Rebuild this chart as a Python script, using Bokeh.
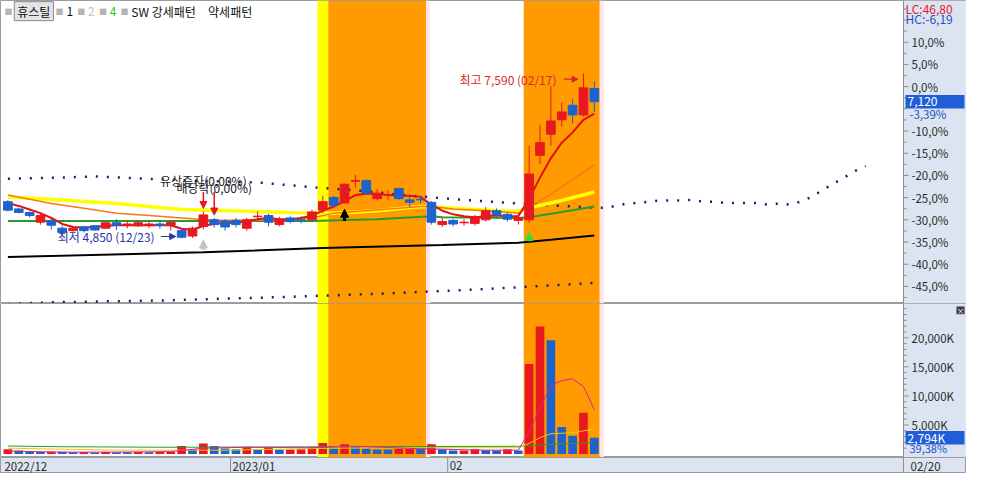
from bokeh.plotting import figure
from bokeh.models import Range1d, Arrow, NormalHead, ColumnDataSource, Label
from bokeh.layouts import column
from bokeh.embed import file_html
from bokeh.resources import INLINE
from bokeh.core.properties import value

FONT = "Noto Sans CJK KR"

# ---------------- data ----------------
stock_name = "휴스틸"
legend_periods = ["1", "2", "4"]
pattern_names = ["SW 강세패턴", "약세패턴"]
month_labels = ["2022/12", "2023/01", "02"]
month_first_idx = [0, 21, 41]
cursor_date = "02/20"
high_date = "02/17"
low_date = "12/23"

opens = [5460, 5340, 5280, 5120, 5150, 5020, 4980, 5040, 5060, 5020,
         5110, 5080, 5060, 5080, 5090, 5070, 4980, 4890, 5050, 5160,
         5140, 5150, 5020, 5210, 5230, 5080, 5190, 5160, 5160, 5320,
         5530, 5440, 5800, 5810, 5510, 5570, 5680, 5490, 5500, 5450,
         5080, 5150, 5110, 5100, 5160, 5310, 5250, 5150, 5160, 6230,
         6580, 6820, 7060, 6900, 7340]
highs = [5490, 5360, 5300, 5270, 5170, 5060, 5040, 5060, 5070, 5120,
         5170, 5150, 5140, 5140, 5140, 5150, 5020, 5050, 5300, 5190,
         5170, 5190, 5190, 5300, 5260, 5210, 5220, 5220, 5330, 5560,
         5560, 5760, 5910, 5830, 5670, 5650, 5690, 5560, 5560, 5470,
         5190, 5170, 5170, 5240, 5370, 5350, 5280, 5270, 6390, 6740,
         7380, 7110, 7170, 7590, 7460]
lows = [5300, 5270, 5200, 5080, 5000, 4910, 4960, 4950, 4980, 5010,
        4990, 5020, 5040, 5020, 5010, 4980, 4850, 4860, 5000, 5030,
        4980, 5030, 4980, 5140, 5050, 5050, 5100, 5100, 5120, 5270,
        5350, 5430, 5690, 5590, 5480, 5490, 5490, 5370, 5430, 5080,
        5040, 5050, 5060, 5060, 5130, 5210, 5130, 5080, 5110, 6080,
        6390, 6710, 6760, 6870, 6950]
closes = [5320, 5280, 5230, 5230, 5070, 4950, 5020, 4980, 4990, 5110,
          5070, 5090, 5110, 5090, 5070, 5120, 4870, 5020, 5240, 5080,
          5040, 5080, 5160, 5220, 5120, 5160, 5130, 5150, 5290, 5460,
          5400, 5750, 5810, 5600, 5600, 5580, 5510, 5450, 5490, 5120,
          5130, 5090, 5120, 5210, 5310, 5240, 5170, 5190, 5920, 6440,
          6800, 6950, 6900, 7350, 7120]
volumes_k = [830, 610, 380, 360, 400, 380, 300, 330, 280, 350,
             320, 300, 340, 300, 330, 380, 1380, 830, 1830, 1380,
             950, 830, 1210, 830, 1160, 780, 790, 800, 1160, 1880,
             950, 1660, 1210, 950, 780, 760, 900, 950, 900, 1660,
             830, 600, 620, 830, 660, 600, 830, 610, 15490, 21960,
             19590, 4650, 3150, 7095, 2794]

# price moving averages
ma5 = [5440, 5390, 5330, 5270, 5190, 5090, 5040, 5030, 5040, 5060,
       5070, 5070, 5070, 5070, 5070, 5070, 5010, 4990, 5060, 5090,
       5110, 5110, 5140, 5170, 5190, 5170, 5170, 5190, 5230, 5310,
       5380, 5470, 5570, 5590, 5590, 5570, 5560, 5560, 5540, 5410,
       5310, 5250, 5220, 5200, 5220, 5230, 5220, 5220, 5510, 5860,
       6180, 6440, 6610, 6820, 6920]
ma20_idx = [0, 4, 7, 10, 13, 16, 19, 24, 28, 30, 33, 36, 38, 39, 41, 45, 47, 48, 50, 52, 54]
ma20 = [5570, 5430, 5350, 5270, 5230, 5190, 5150, 5150, 5190, 5270, 5310, 5350, 5380, 5380,
        5340, 5300, 5270, 5380, 5580, 5830, 6070]
ma60_idx = [0, 5, 10, 16, 22, 28, 30, 34, 38, 41, 45, 47, 48, 51, 54]
ma60 = [5540, 5490, 5430, 5330, 5300, 5270, 5270, 5310, 5380, 5350, 5310, 5300, 5360, 5480, 5620]
ma120_idx = [0, 10, 20, 28, 34, 39, 40, 47, 48, 51, 54]
ma120 = [5140, 5140, 5140, 5140, 5170, 5220, 5200, 5190, 5200, 5290, 5380]
ma240_idx = [0, 18, 29, 40, 47, 50, 54]
ma240 = [4540, 4620, 4690, 4740, 4780, 4830, 4900]
span_a_idx = [0, 5, 8, 13, 17, 23, 28, 32, 37, 42, 47, 51] + list(range(54, 80))
span_a = [5840, 5860, 5880, 5840, 5810, 5780, 5700, 5650, 5560, 5490, 5430, 5390,
          5360, 5360, 5390, 5430, 5440, 5460, 5480, 5480, 5480, 5490, 5460, 5460, 5440,
          5440, 5440, 5440, 5410, 5430, 5410, 5460, 5540, 5650, 5760, 5860, 5970, 6050]
span_b_idx = [0, 4, 14, 24, 34, 44, 54]
span_b = [3760, 3790, 3820, 3870, 3930, 4010, 4110]

# volume moving averages
vma5_idx = [0, 5, 10, 15, 18, 22, 28, 32, 38, 44, 47, 48, 49, 50, 51, 52, 53, 54]
vma5 = [500, 330, 330, 420, 1000, 1160, 1080, 1330, 910, 660, 660, 3820, 7970, 11790, 12620, 12950, 11620, 7640]
vma20_idx = [0, 10, 20, 30, 40, 47, 48, 49, 50, 52, 54]
vma20 = [1000, 660, 660, 1000, 1080, 1080, 1830, 2820, 3490, 3650, 4320]
vma60_idx = [0, 5, 15, 30, 47, 48, 50, 52, 54]
vma60 = [1380, 1250, 1160, 1250, 1330, 1410, 1660, 1830, 1990]

base_price = 7370
lc_text = "LC:46,80"
hc_text = "HC:-6,19"
last_change_text = "-3,39%"
vol_ratio_text = "39,38%"
event_names = ["유상증자(0,00%)", "배당락(0,00%)"]
event_idx = [18, 19]
up_signal_idx = [18, 31, 48]
up_signal_colors = ["#c4c4c4", "#000000", "#33dd33"]
yellow_days = [29]
strong_bands = [(30, 38), (48, 54)]
pct_ticks = [10, 5, 0, -10, -15, -20, -25, -30, -35, -40, -45]
vol_ticks = [5000, 10000, 15000, 20000]

# ---------------- layout / style ----------------
W, W_PLOT = 966, 903
H_PRICE, H_VOL, H_DATE = 303, 154, 16
X_START, X_END = -0.68, 82.47
X_FULL = X_START + (X_END - X_START) * W / W_PLOT
PPU = W_PLOT / (X_END - X_START)          # screen px per day
PRICE_LO, PRICE_HI = 3770, 8800
VOL_LO, VOL_HI = -600, 25900
REF_DAY_PX = 11.04
RPP = (PRICE_HI - PRICE_LO) / 313.0       # price per reference px
VPP = (VOL_HI - VOL_LO) / 159.0
AXIS_BG = "#dbe4f0"
AXIS_LINE = "#8c8c8c"
LABEL_C = "#2b2b2b"
RED = "#e8191e"
BLUE = "#1e62cc"
BOX_BLUE = "#1f5ed6"


def ix(px):
    return (px - 7.5) / REF_DAY_PX


xr = Range1d(X_START, X_FULL)


def make_fig(h, yr, bg="white"):
    f = figure(width=W, height=h, x_range=xr, y_range=yr, output_backend="svg",
               toolbar_location=None, tools="", x_axis_location=None, y_axis_location=None,
               min_border=0, min_border_left=0, min_border_right=0, min_border_top=0,
               min_border_bottom=0, background_fill_color=bg, border_fill_color=AXIS_BG,
               outline_line_color="#9c9c9c")
    f.grid.visible = False
    return f


def txt(f, x, y, text, color=LABEL_C, size="11.5px", align="left", x_offset=0):
    f.text(x=x, y=y, text=text, x_offset=x_offset, text_align=align, text_baseline="middle",
           text_color=color, text_font=value(FONT), text_font_size=value(size))


def axis_area(f, lo, hi, tick_pos, tick_labels, minor_pos):
    f.quad(left=[X_END], right=[X_FULL], bottom=[lo], top=[hi], fill_color=AXIS_BG, line_color=None)
    f.segment(x0=[X_END], y0=[lo], x1=[X_END], y1=[hi], line_color=AXIS_LINE, line_width=1)
    n_t = len(tick_pos)
    f.segment(x0=[X_END] * n_t, y0=tick_pos, x1=[X_END + 5 / PPU] * n_t, y1=tick_pos,
              line_color=AXIS_LINE, line_width=1)
    n_m = len(minor_pos)
    f.segment(x0=[X_END] * n_m, y0=minor_pos, x1=[X_END + 3 / PPU] * n_m, y1=minor_pos,
              line_color=AXIS_LINE, line_width=1)
    txt(f, [X_END] * n_t, tick_pos, tick_labels, x_offset=8)


def value_box(f, y, half_h, text):
    f.quad(left=[X_END + 2 / PPU], right=[X_FULL - 2 / PPU], bottom=[y - half_h], top=[y + half_h],
           fill_color=BOX_BLUE, line_color=None)
    txt(f, [X_END], [y], [text], color="white", size="12px", x_offset=4)


def draw_bands(f, lo, hi):
    f.quad(left=[d - 0.5 for d in yellow_days], right=[d + 0.5 for d in yellow_days],
           bottom=lo, top=hi, fill_color="#ffff00", line_color=None)
    f.quad(left=[a - 0.5 for a, b in strong_bands], right=[b + 0.5 for a, b in strong_bands],
           bottom=lo, top=hi, fill_color="#ff9b00", line_color=None)
    f.quad(left=[b + 0.5 for a, b in strong_bands], right=[b + 0.9 for a, b in strong_bands],
           bottom=lo, top=hi, fill_color="#ffe6ea", line_color=None)


n = len(closes)
idx = list(range(n))
candle_colors = [RED if c >= o else BLUE for o, c in zip(opens, closes)]
vol_colors = [RED] + [RED if volumes_k[i] >= volumes_k[i - 1] else BLUE for i in range(1, n)]

# ---------------- price panel ----------------
pp = make_fig(H_PRICE, Range1d(PRICE_LO, PRICE_HI))
draw_bands(pp, PRICE_LO, PRICE_HI)

pp.line(span_a_idx, span_a, line_color="#1c1c78", line_width=2.5, line_dash="2 9")
pp.line(span_b_idx, span_b, line_color="#1c1c78", line_width=2.5, line_dash="2 9")
pp.line(ma240_idx, ma240, line_color="#000000", line_width=2)
pp.line(ma120_idx, ma120, line_color="#279b2c", line_width=2)
pp.line(ma60_idx, ma60, line_color="#ffff00", line_width=3.5)
pp.line(ma20_idx, ma20, line_color="#ff7418", line_width=1.5)
pp.line(idx, ma5, line_color="#e41010", line_width=2)

src = ColumnDataSource(dict(
    x=idx, h=highs, l=lows,
    top=[max(o, c) for o, c in zip(opens, closes)],
    bottom=[min(o, c) for o, c in zip(opens, closes)],
    color=candle_colors))
pp.segment(x0="x", y0="l", x1="x", y1="h", line_color="color", line_width=1, source=src)
pp.vbar(x="x", width=0.8, top="top", bottom="bottom", fill_color="color",
        line_color="color", line_width=1, source=src)

# high / low annotations
i_hi = max(idx, key=lambda i: highs[i])
i_lo = min(idx, key=lambda i: lows[i])
y_hi_txt = highs[i_hi] - 6 * RPP
txt(pp, [i_hi], [y_hi_txt], [f"최고 {highs[i_hi]:,} ({high_date})"], color="#d42a2a",
    size="12px", align="right", x_offset=-27)
pp.add_layout(Arrow(x_start=i_hi - 20 / REF_DAY_PX, x_end=i_hi - 5.5 / REF_DAY_PX,
                    y_start=y_hi_txt, y_end=y_hi_txt, line_color="#d42a2a", line_width=1.2,
                    end=NormalHead(size=6, fill_color="#d42a2a", line_color="#d42a2a")))
y_lo_txt = lows[i_lo] + 2 * RPP
txt(pp, [i_lo], [y_lo_txt], [f"최저 {lows[i_lo]:,} ({low_date})"], color="#2636a8",
    size="12px", align="right", x_offset=-27)
pp.add_layout(Arrow(x_start=i_lo - 21 / REF_DAY_PX, x_end=i_lo - 6 / REF_DAY_PX,
                    y_start=y_lo_txt, y_end=y_lo_txt, line_color="#2636a8", line_width=1.2,
                    end=NormalHead(size=6, fill_color="#2636a8", line_color="#2636a8")))

# events (down arrows with labels)
ev_tail = max(highs[i] for i in event_idx) + 20 * RPP
for k, (name, i) in enumerate(zip(event_names, event_idx)):
    pp.add_layout(Arrow(x_start=i, x_end=i, y_start=ev_tail, y_end=highs[i] + 3 * RPP,
                        line_color="#e41818", line_width=1.5,
                        end=NormalHead(size=7, fill_color="#e41818", line_color="#e41818")))
    txt(pp, [i], [ev_tail + (12 - 7 * k) * RPP], [name], color="#202020", size="12px",
        align="center")

# up signal arrows
up_gaps = [11, 6, 10]
up_lens = [10, 12, 9]
up_widths = [4, 3, 4]
for i, col, g, ln, lw in zip(up_signal_idx, up_signal_colors, up_gaps, up_lens, up_widths):
    tip = lows[i] - g * RPP
    pp.add_layout(Arrow(x_start=i, x_end=i, y_start=tip - ln * RPP, y_end=tip,
                        line_color=col, line_width=lw,
                        end=NormalHead(size=8, fill_color=col, line_color=col)))

# legend row
leg_y = PRICE_HI - 11 * RPP
sq_px = [4, 56, 78, 100, 122]
txt(pp, [ix(p) for p in sq_px], [leg_y] * len(sq_px), ["■"] * len(sq_px), color="#b4b4b4",
    size="8px")
pp.add_layout(Label(x=ix(14), y=leg_y, text=stock_name, text_baseline="middle",
                    text_font=FONT, text_font_size="12px", text_color="#111111",
                    background_fill_color="#e4e4e4", border_line_color="#8a8a8a",
                    padding=dict(left=3, right=3, top=1, bottom=1)))
txt(pp, [ix(67), ix(89), ix(111)], [leg_y] * 3, legend_periods,
    color=["#111111", "#c4c4c4", "#2ec42e"], size="12px")
txt(pp, [ix(133), ix(211)], [leg_y] * 2, pattern_names, color="#111111", size="12px")

# price axis area (percent of base price)
pct_minor = [t * 2.5 for t in range(-19, 8) if (t * 2.5) not in pct_ticks]
axis_area(pp, PRICE_LO, PRICE_HI,
          [base_price * (1 + t / 100) for t in pct_ticks],
          [f"{t:.1f}%".replace(".", ",") for t in pct_ticks],
          [base_price * (1 + t / 100) for t in pct_minor])
txt(pp, [X_END], [PRICE_HI - 8 * RPP], [lc_text], color="#e8202a", size="12px", x_offset=2)
txt(pp, [X_END], [PRICE_HI - 18.5 * RPP], [hc_text], color="#1e50c8", size="12px", x_offset=2)
value_box(pp, closes[-1], 7 * RPP, f"{closes[-1]:,}")
txt(pp, [X_END], [closes[-1] - 13 * RPP], [last_change_text], color="#2050c8", x_offset=6)

# ---------------- volume panel ----------------
pv = make_fig(H_VOL, Range1d(VOL_LO, VOL_HI))
draw_bands(pv, VOL_LO, VOL_HI)
pv.vbar(x=idx, width=0.8, top=volumes_k, bottom=0, fill_color=vol_colors, line_color=None)
pv.line(vma60_idx, vma60, line_color="#2a9a2a", line_width=1)
pv.line(vma20_idx, vma20, line_color="#e6cf00", line_width=1)
pv.line(vma5_idx, vma5, line_color="#e0209a", line_width=1)

axis_area(pv, VOL_LO, VOL_HI, vol_ticks, [f"{t:,}K" for t in vol_ticks],
          [m for m in range(1000, 26000, 1000) if m not in vol_ticks])
value_box(pv, volumes_k[-1], 7 * VPP, f"{volumes_k[-1]:,}K")
txt(pv, [X_END], [volumes_k[-1] - 10.5 * VPP], [vol_ratio_text], color="#2050c8",
    size="11px", x_offset=6)
pv.quad(left=[X_FULL - 10 / PPU], right=[X_FULL - 2 / PPU], top=[VOL_HI - 3 * VPP],
        bottom=[VOL_HI - 11 * VPP], fill_color="#3a3a3a", line_color=None)
txt(pv, [X_FULL - 6 / PPU], [VOL_HI - 7 * VPP], ["×"], color="white", size="8px", align="center")

# ---------------- date strip ----------------
pdt = make_fig(H_DATE, Range1d(0, 1), bg=AXIS_BG)
sep_x = [m - 0.5 for m in month_first_idx]
pdt.segment(x0=sep_x[1:] + [X_END], y0=0, x1=sep_x[1:] + [X_END], y1=1,
            line_color=AXIS_LINE, line_width=1)
txt(pdt, sep_x, [0.5] * len(sep_x), month_labels, x_offset=2)
txt(pdt, [X_END], [0.5], [cursor_date], x_offset=7)

layout = column(pp, pv, pdt)
open("out.html", "w").write(file_html(layout, INLINE))
